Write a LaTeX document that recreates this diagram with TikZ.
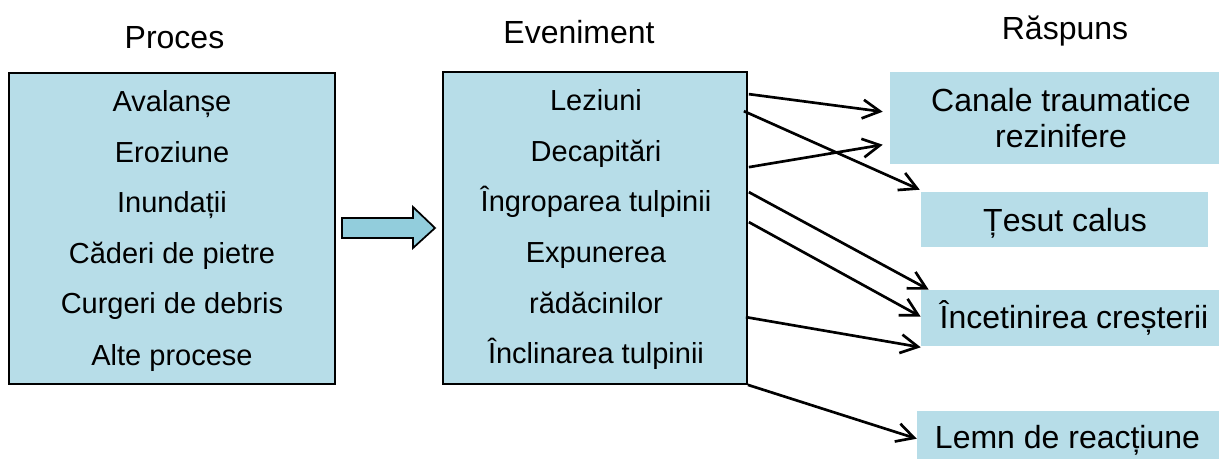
\documentclass[tikz,border=0pt]{standalone}
\usepackage{fontspec}
\setmainfont{Liberation Sans}
\usetikzlibrary{arrows.meta,calc}
\definecolor{boxblue}{HTML}{B7DDE8}
\definecolor{arrowblue}{HTML}{92CDDC}
\begin{document}
\begin{tikzpicture}[x=0.75pt,y=-0.75pt,
  panel/.style={draw=black,line width=1.3pt,fill=boxblue,inner sep=0},
  resp/.style={fill=boxblue,inner sep=0},
  item/.style={anchor=base,inner sep=0,font=\fontsize{21.75}{26}\selectfont},
  title/.style={anchor=base,inner sep=0,font=\fontsize{24}{26.5}\selectfont},
  conn/.style={line width=2pt,-{Straight Barb[length=13pt,width=14pt,line width=2pt]}}]
\useasboundingbox (0,0) rectangle (1219,459);

% titles
\node[title] (tproc) at (174.5,48.3) {Proces};
\node[title] (tev) at (579,43.3) {Eveniment};
\node[title] (trasp) at (1065,39.3) {Răspuns};

% left box
\node[panel,minimum width=244.5pt,minimum height=233.25pt] (proc) at (172,228.5) {};
\node[item] (p1) at (172,112) {Avalanșe};
\node[item] (p2) at (172,162.6) {Eroziune};
\node[item] (p3) at (172,213) {Inundații};
\node[item] (p4) at (172,263.5) {Căderi de pietre};
\node[item] (p5) at (172,314) {Curgeri de debris};
\node[item] (p6) at (172,365) {Alte procese};

% middle box
\node[panel,minimum width=228pt,minimum height=234pt] (ev) at (595,228) {};
\node[item] (e1) at (596,111) {Leziuni};
\node[item] (e2) at (596,161.5) {Decapitări};
\node[item] (e3) at (596,212) {Îngroparea tulpinii};
\node[item] (e4) at (596,262.5) {Expunerea};
\node[item] (e5) at (596,313) {rădăcinilor};
\node[item] (e6) at (596,363.5) {Înclinarea tulpinii};

% block arrow
\draw[line width=1.3pt,fill=arrowblue,line join=miter]
  (342,218) -- (413,218) -- (413,207) -- (435,228) -- (413,248) -- (413,238) -- (342,238) -- cycle;

% response boxes
\node[resp,minimum width=246.75pt,minimum height=69pt] (can) at (1054.5,118) {};
\node[align=center,inner sep=0,font=\fontsize{24}{26.5}\selectfont] (cant) at (1061,118) {Canale traumatice\\rezinifere};
\node[resp,minimum width=215.25pt,minimum height=41.25pt] (tes) at (1064.5,219.5) {};
\node[title] (test) at (1065,231.7) {Țesut calus};
\node[resp,minimum width=223.5pt,minimum height=42pt] (inc) at (1070,318) {};
\node[title] (inct) at (1074,328) {Încetinirea creșterii};
\node[resp,minimum width=226.5pt,minimum height=36pt] (lemn) at (1068,435) {};
\node[title] (lemnt) at (1067.5,448) {Lemn de reacțiune};

% connectors
\draw[conn] ($(ev.north east)+(1,23)$) -- ($(can.north west)+(-7,40)$);
\draw[conn] ($(ev.north east)+(-4,40)$) -- ($(tes.north west)+(-1,-2)$);
\draw[conn] ($(ev.north east)+(1,96)$) -- ($(can.north west)+(-7,73)$);
\draw[conn] ($(ev.north east)+(1,121)$) -- ($(inc.north west)+(8,0)$);
\draw[conn] ($(ev.north east)+(1,151)$) -- ($(inc.north west)+(0,27)$);
\draw[conn] ($(ev.north east)+(-2,246)$) -- ($(inc.south west)+(0,1)$);
\draw[conn] (ev.south east) -- ($(lemn.north west)+(0,28)$);
\end{tikzpicture}
\end{document}
